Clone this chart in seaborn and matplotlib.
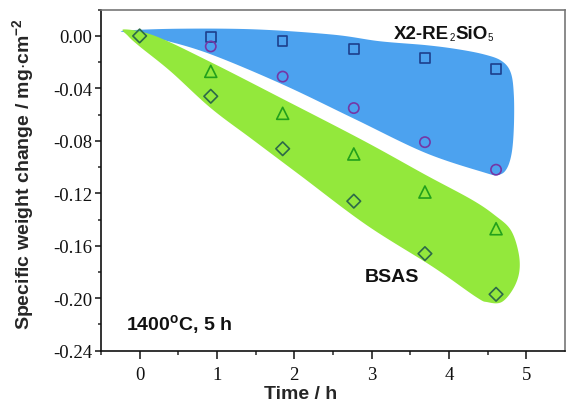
import numpy as np
import pandas as pd
import matplotlib
matplotlib.use("Agg")
import matplotlib.pyplot as plt
import seaborn as sns
from matplotlib.ticker import FixedLocator, FormatStrFormatter

# Oxidation time (h) at which samples were weighed
time_h = [0.92, 1.85, 2.77, 3.69, 4.61]
time_h_diamond = [0.0, 0.92, 1.85, 2.77, 3.69, 4.61]

# Specific weight change (mg/cm^2)
x2_square = [-0.001, -0.004, -0.010, -0.017, -0.025]
x2_circle = [-0.008, -0.031, -0.055, -0.081, -0.102]
bsas_triangle = [-0.027, -0.059, -0.090, -0.119, -0.147]
bsas_diamond = [0.0, -0.046, -0.086, -0.126, -0.166, -0.197]

# Outline of the shaded envelope for each coating (time, weight change)
x2_band_t = [-0.20, 0.50, 1.50, 2.50, 3.10, 3.70, 4.10, 4.45, 4.68, 4.80, 4.84,
             4.84, 4.81, 4.74, 4.63, 4.45, 3.69, 2.77, 1.85, 0.92, 0.30, -0.12]
x2_band_w = [0.004, 0.0055, 0.005, 0.001, -0.004, -0.007, -0.010, -0.014, -0.019, -0.028, -0.045,
             -0.070, -0.090, -0.102, -0.106, -0.104, -0.089, -0.063, -0.037, -0.014, -0.003, 0.002]

bsas_band_t = [-0.20, 0.20, 0.92, 1.85, 2.90, 3.70, 4.30, 4.60, 4.80, 4.90, 4.91, 4.83, 4.68, 4.50,
               4.35, 3.79, 2.93, 2.07, 1.46, 0.92, 0.40, 0.00, -0.15]
bsas_band_w = [0.005, 0.000, -0.020, -0.048, -0.080, -0.106, -0.125, -0.137, -0.148, -0.165, -0.180,
               -0.193, -0.203, -0.203, -0.199, -0.176, -0.144, -0.106, -0.079, -0.055, -0.027, -0.008, 0.000]

x_ticks = [0, 1, 2, 3, 4, 5]
y_ticks = [0.00, -0.04, -0.08, -0.12, -0.16, -0.20, -0.24]
y_minor = [0.02, -0.02, -0.06, -0.10, -0.14, -0.18, -0.22]
x_minor = [-0.5, 0.5, 1.5, 2.5, 3.5, 4.5]

sns.set_theme(style="ticks")
plt.rcParams.update({
    "font.family": ["Liberation Sans", "DejaVu Sans"],
    "axes.unicode_minus": False,
    "mathtext.fontset": "custom",
    "mathtext.rm": "Liberation Sans:bold",
    "mathtext.it": "Liberation Sans:bold",
    "mathtext.bf": "Liberation Sans:bold",
    "mathtext.default": "rm",
})


def smooth_closed(t, w, n=30):
    """Closed Catmull-Rom curve through the outline vertices."""
    p = np.column_stack([t, w])
    m = len(p)
    out = []
    for i in range(m):
        p0, p1, p2, p3 = p[(i - 1) % m], p[i], p[(i + 1) % m], p[(i + 2) % m]
        s = np.linspace(0, 1, n, endpoint=False)[:, None]
        seg = 0.5 * ((2 * p1) + (-p0 + p2) * s + (2 * p0 - 5 * p1 + 4 * p2 - p3) * s ** 2
                     + (-p0 + 3 * p1 - 3 * p2 + p3) * s ** 3)
        out.append(seg)
    return np.vstack(out)


fig = plt.figure(figsize=(5.66, 4.06), dpi=100)
ax = fig.add_axes([0.1784, 0.1338, 0.8196, 0.8398])

blue_outline = smooth_closed(x2_band_t, x2_band_w)
green_outline = smooth_closed(bsas_band_t, bsas_band_w)
ax.fill(blue_outline[:, 0], blue_outline[:, 1], color="#4ca2ef", lw=0, zorder=1)
ax.fill(green_outline[:, 0], green_outline[:, 1], color="#93e83c", lw=0, zorder=2)

series = [
    (time_h, x2_square, "s", "#1d3f8c", 48),
    (time_h, x2_circle, "o", "#7437a6", 55),
    (time_h, bsas_triangle, "^", "#22a01c", 75),
    (time_h_diamond, bsas_diamond, "D", "#2d6a48", 48),
]
for t, w, mk, col, size in series:
    df = pd.DataFrame({"time": t, "dw": w})
    sns.scatterplot(data=df, x="time", y="dw", marker=mk, s=size,
                    facecolor="none", edgecolor=col, linewidth=1.2,
                    ax=ax, zorder=3, legend=False)

ax.set_xlim(-0.5, 5.5)
ax.set_ylim(-0.24, 0.02)

ax.xaxis.set_major_locator(FixedLocator(x_ticks))
ax.xaxis.set_minor_locator(FixedLocator(x_minor))
ax.yaxis.set_major_locator(FixedLocator(y_ticks))
ax.yaxis.set_minor_locator(FixedLocator(y_minor))
ax.xaxis.set_major_formatter(FormatStrFormatter("%d"))
ax.yaxis.set_major_formatter(FormatStrFormatter("%.2f"))

ax.tick_params(axis="x", which="major", direction="out", length=6, width=1.1, pad=5)
ax.tick_params(axis="x", which="minor", direction="out", length=3, width=1.1)
ax.tick_params(axis="y", which="major", direction="out", length=4.5, width=1.1, pad=2)
ax.tick_params(axis="y", which="minor", direction="out", length=2.5, width=1.1)
ax.tick_params(colors="#111111")
for lab in ax.get_xticklabels() + ax.get_yticklabels():
    lab.set_fontfamily("Liberation Serif")
    lab.set_fontsize(13.5)

for side in ["left", "bottom"]:
    ax.spines[side].set_color("#111111")
    ax.spines[side].set_linewidth(1.2)
for side in ["top", "right"]:
    ax.spines[side].set_color("#777777")
    ax.spines[side].set_linewidth(1.2)

ax.set_xlabel("Time / h", fontsize=14, fontweight="bold")
ax.set_ylabel("Specific weight change / mg$\\cdot$cm$^{-2}$", fontsize=14, fontweight="bold")
ax.xaxis.set_label_coords(0.43, -0.10)
ax.yaxis.set_label_coords(-0.14, 0.52)

# Coating name with small subscripts, built piece by piece along one baseline
pieces = [("2", 7, "normal"), ("SiO", 13.5, "bold"), ("5", 7, "normal")]
first = ax.text(3.29, -0.0045, "X2-RE", fontsize=13.5, fontweight="bold",
                color="#111111", va="bottom")
prev = first
for txt, fs, fw in pieces:
    prev = ax.annotate(txt, xycoords=(prev, first), xy=(1, 0), xytext=(0.2, 0),
                       textcoords="offset points", va="bottom",
                       fontsize=fs, fontweight=fw, color="#111111")

ax.text(2.91, -0.187, "BSAS", fontsize=14, fontweight="bold", color="#111111")
ax.text(-0.17, -0.2236, "1400$^{o}$C, 5 h", fontsize=14, fontweight="bold", color="#111111")

fig.savefig("out.png", dpi=100)
